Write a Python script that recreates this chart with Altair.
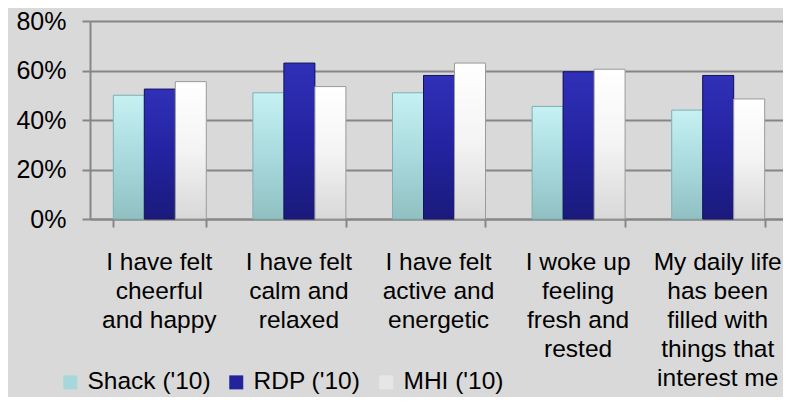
import altair as alt
import pandas as pd

categories = [
    "I have felt\ncheerful\nand happy",
    "I have felt\ncalm and\nrelaxed",
    "I have felt\nactive and\nenergetic",
    "I woke up\nfeeling\nfresh and\nrested",
    "My daily life\nhas been\nfilled with\nthings that\ninterest me",
]
series = ["Shack ('10)", "RDP ('10)", "MHI ('10)"]
shack = [0.50, 0.51, 0.51, 0.455, 0.44]
rdp = [0.525, 0.63, 0.58, 0.595, 0.58]
mhi = [0.555, 0.535, 0.63, 0.605, 0.485]
y_ticks = [0, 0.2, 0.4, 0.6, 0.8]

rows = []
for name, vals in zip(series, [shack, rdp, mhi]):
    for c, v in zip(categories, vals):
        rows.append({"cat": c, "series": name, "value": v})
df = pd.DataFrame(rows)

FONT = "Liberation Sans"
solid = ["#a6d8db", "#23239c", "#e6e6e6"]
grads = [
    [("#c6f1f3", 0), ("#a9dadd", 0.5), ("#90c0c2", 1)],
    [("#3030b8", 0), ("#2323a0", 0.5), ("#1a1a7c", 1)],
    [("#ffffff", 0), ("#f4f4f4", 0.5), ("#d8d8d8", 1)],
]
strokes = ["#7fb0b3", "#14145e", "#9a9a9a"]

x_enc = alt.X(
    "cat:N",
    sort=categories,
    title=None,
    scale=alt.Scale(paddingInner=0.334, paddingOuter=0.167),
    axis=alt.Axis(
        labelExpr="split(datum.label, '\\n')",
        labelAngle=0,
        labelFont=FONT,
        labelFontSize=24.5,
        labelLineHeight=29,
        labelColor="#000000",
        labelPadding=23,
        labelLimit=0,
        labelOverlap=False,
        labelBound=False,
        labelOffset=-1,
        tickBand="extent",
        tickSize=8,
        tickColor="#868686",
        tickWidth=2,
        domainColor="#868686",
        domainWidth=2,
        grid=False,
    ),
)
xo_enc = alt.XOffset("series:N", sort=series, scale=alt.Scale(domain=series, paddingInner=0, paddingOuter=0))
y_enc = alt.Y(
    "value:Q",
    title=None,
    scale=alt.Scale(domain=[0, 0.8], nice=False),
    axis=alt.Axis(
        values=y_ticks,
        format=".0%",
        labelFont=FONT,
        labelFontSize=25,
        labelColor="#000000",
        labelPadding=16,
        tickSize=8,
        tickColor="#868686",
        tickWidth=2,
        domainColor="#868686",
        domainWidth=2,
        gridColor="#868686",
        gridWidth=2,
    ),
)

base = alt.Chart(df).mark_bar().encode(
    x=x_enc,
    xOffset=xo_enc,
    y=y_enc,
    color=alt.Color(
        "series:N",
        sort=series,
        scale=alt.Scale(domain=series, range=solid),
        legend=alt.Legend(
            title=None,
            orient="none",
            direction="horizontal",
            legendX=-32,
            legendY=349,
            symbolType="square",
            symbolSize=196,
            symbolStrokeWidth=0,
            labelFont=FONT,
            labelFontSize=24.5,
            labelColor="#000000",
            labelOffset=5,
            columnPadding=13,
        ),
    ),
)

layers = [base]
for i, name in enumerate(series):
    g = alt.Gradient(
        gradient="linear",
        stops=[alt.GradientStop(color=c, offset=o) for c, o in grads[i]],
        x1=0, x2=0, y1=0, y2=1,
    )
    layers.append(
        alt.Chart(df)
        .transform_filter(alt.datum.series == name)
        .mark_bar(fill=g, stroke=strokes[i], strokeWidth=1)
        .encode(x=x_enc, xOffset=xo_enc, y=y_enc)
    )

chart = (
    alt.layer(*layers)
    .properties(
        width=698,
        height=198,
        autosize=alt.AutoSizeParams(type="none"),
        padding={"left": 82, "top": 13, "right": -5, "bottom": 178},
        background="#d9d9d9",
    )
    .configure_view(stroke=None)
)

chart.save("out.html", embed_options={"renderer": "svg", "actions": False})
